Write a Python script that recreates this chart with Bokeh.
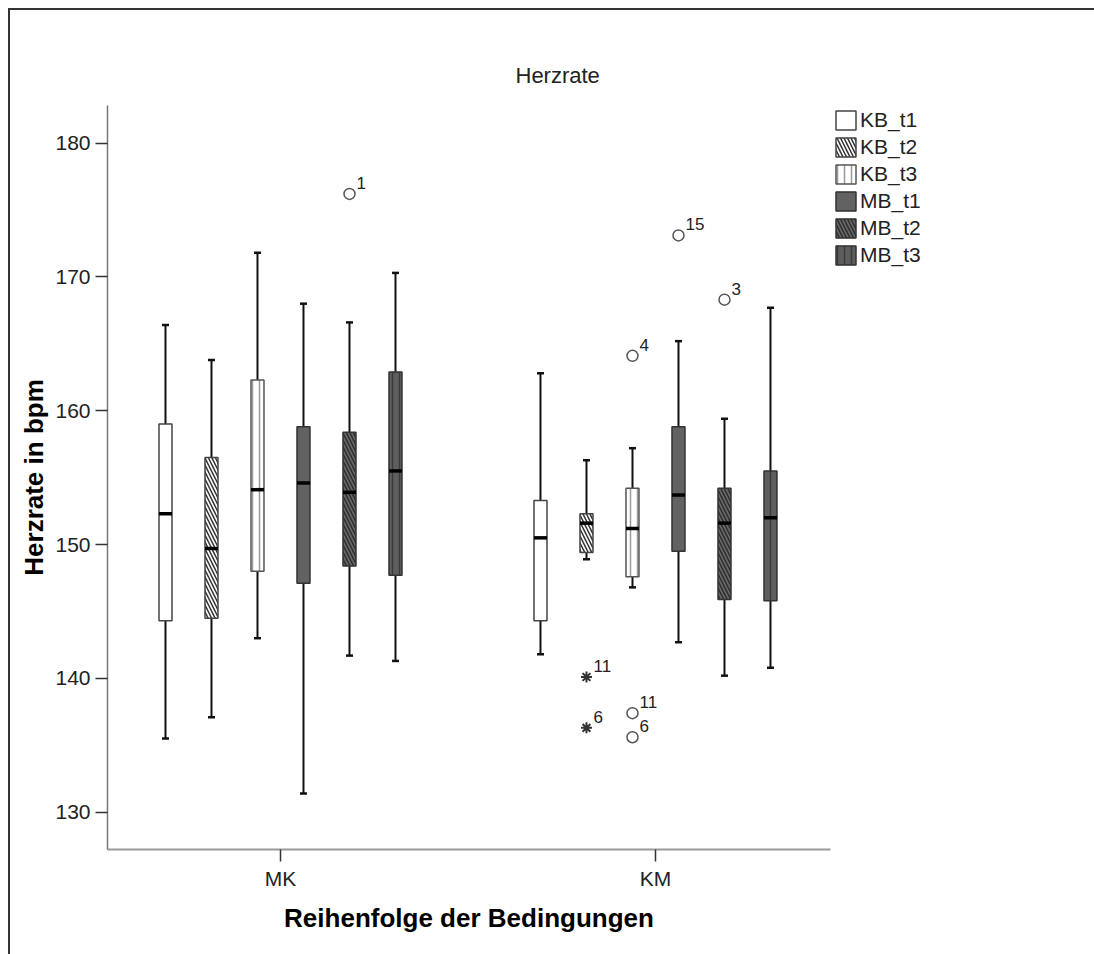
from bokeh.plotting import figure
from bokeh.models import Range1d, Legend, LegendItem, FixedTicker, ColumnDataSource
from bokeh.embed import file_html
from bokeh.resources import INLINE
from bokeh.core.properties import value

# ---------------- data ----------------
groups = ["MK", "KM"]
group_pos = [1, 2]
series = ["KB_t1", "KB_t2", "KB_t3", "MB_t1", "MB_t2", "MB_t3"]

lower_MK = [135.5, 137.1, 143.0, 131.4, 141.7, 141.3]
q1_MK = [144.3, 144.5, 148.0, 147.1, 148.4, 147.7]
median_MK = [152.3, 149.7, 154.1, 154.6, 153.9, 155.5]
q3_MK = [159.0, 156.5, 162.3, 158.8, 158.4, 162.9]
upper_MK = [166.4, 163.8, 171.8, 168.0, 166.6, 170.3]

lower_KM = [141.8, 148.9, 146.8, 142.7, 140.2, 140.8]
q1_KM = [144.3, 149.4, 147.6, 149.5, 145.9, 145.8]
median_KM = [150.5, 151.6, 151.2, 153.7, 151.6, 152.0]
q3_KM = [153.3, 152.3, 154.2, 158.8, 154.2, 155.5]
upper_KM = [162.8, 156.3, 157.2, 165.2, 159.4, 167.7]

# outliers (circles) and extremes (stars)
out_group = ["MK", "KM", "KM", "KM", "KM", "KM"]
out_series = ["MB_t2", "KB_t3", "KB_t3", "KB_t3", "MB_t1", "MB_t2"]
out_value = [176.2, 164.1, 137.4, 135.6, 173.1, 168.3]
out_label = ["1", "4", "11", "6", "15", "3"]

ext_group = ["KM", "KM"]
ext_series = ["KB_t2", "KB_t2"]
ext_value = [140.1, 136.3]
ext_label = ["11", "6"]

y_ticks = [130, 140, 150, 160, 170, 180]

# ---------------- styles ----------------
FONT = "Liberation Sans"
SLOT = 46 / 375.0
BOX_W = 13 / 375.0
CAP_W = 7 / 375.0

styles = {
    "KB_t1": dict(fill_color="white", line_color="#444444", hatch_pattern=None, hatch_color=None),
    "KB_t2": dict(fill_color="white", line_color="#444444", hatch_pattern="left_diagonal_line", hatch_color="#333333"),
    "KB_t3": dict(fill_color="white", line_color="#555555", hatch_pattern="vertical_line", hatch_color="#9a9a9a"),
    "MB_t1": dict(fill_color="#626262", line_color="#333333", hatch_pattern=None, hatch_color=None),
    "MB_t2": dict(fill_color="#686868", line_color="#333333", hatch_pattern="left_diagonal_line", hatch_color="#2e2e2e"),
    "MB_t3": dict(fill_color="#5e5e5e", line_color="#333333", hatch_pattern="vertical_line", hatch_color="#3a3a3a"),
}

stats = {
    "MK": (lower_MK, q1_MK, median_MK, q3_MK, upper_MK),
    "KM": (lower_KM, q1_KM, median_KM, q3_KM, upper_KM),
}

y0, y1 = 127.21, 182.81
x0, x1 = 0.5387, 2.4667

p = figure(
    frame_width=723, frame_height=744,
    min_border_left=97, min_border_right=264, min_border_top=95, min_border_bottom=105,
    x_range=Range1d(x0, x1), y_range=Range1d(y0, y1),
    output_backend="svg", toolbar_location=None,
    title="Herzrate",
)
p.styles = {"border-top": "2px solid #333333", "border-left": "2px solid #333333",
            "margin-left": "8px", "margin-top": "8px"}
p.background_fill_color = "white"
p.border_fill_color = "white"
p.outline_line_color = None
p.xgrid.grid_line_color = None
p.ygrid.grid_line_color = None

p.title.text_font = FONT
p.title.text_font_size = "22px"
p.title.text_font_style = "normal"
p.title.text_color = "#222222"
p.title.align = "left"
p.title.offset = 408
p.title.standoff = 35


def xpos(g, s):
    return group_pos[groups.index(g)] + (series.index(s) - 2.5) * SLOT


legend_items = []
for i, s in enumerate(series):
    xs, lo, qa, md, qb, hi = [], [], [], [], [], []
    for g in groups:
        L, Q1, M, Q3, U = stats[g]
        xs.append(xpos(g, s))
        lo.append(L[i]); qa.append(Q1[i]); md.append(M[i]); qb.append(Q3[i]); hi.append(U[i])
    src = ColumnDataSource(dict(
        x=xs, lo=lo, q1=qa, med=md, q3=qb, hi=hi,
        xl=[v - BOX_W / 2 for v in xs], xr=[v + BOX_W / 2 for v in xs],
        cl=[v - CAP_W / 2 for v in xs], cr=[v + CAP_W / 2 for v in xs],
    ))
    # whiskers
    p.segment(x0="x", y0="q3", x1="x", y1="hi", source=src, line_color="#111111", line_width=2)
    p.segment(x0="x", y0="q1", x1="x", y1="lo", source=src, line_color="#111111", line_width=2)
    p.segment(x0="cl", y0="hi", x1="cr", y1="hi", source=src, line_color="#111111", line_width=2.5)
    p.segment(x0="cl", y0="lo", x1="cr", y1="lo", source=src, line_color="#111111", line_width=2.5)
    st = styles[s]
    kw = dict(fill_color=st["fill_color"], line_color=st["line_color"], line_width=1.5)
    if st["hatch_pattern"]:
        kw.update(hatch_pattern=st["hatch_pattern"], hatch_color=st["hatch_color"],
                  hatch_scale=7, hatch_weight=1.5)
    r = p.vbar(x="x", width=BOX_W, top="q3", bottom="q1", source=src, **kw)
    p.segment(x0="xl", y0="med", x1="xr", y1="med", source=src, line_color="black", line_width=3.5)
    legend_items.append(LegendItem(label=s, renderers=[r]))

# outliers
osrc = ColumnDataSource(dict(
    x=[xpos(g, s) for g, s in zip(out_group, out_series)], y=out_value, t=out_label))
p.scatter(x="x", y="y", source=osrc, marker="circle", size=11, fill_color=None,
          line_color="#555555", line_width=1.5)
p.text(x="x", y="y", text="t", source=osrc, x_offset=7, y_offset=-5,
       text_font=value(FONT), text_font_size="17px", text_color="#222222",
       text_align="left", text_baseline="bottom")

esrc = ColumnDataSource(dict(
    x=[xpos(g, s) for g, s in zip(ext_group, ext_series)], y=ext_value, t=ext_label))
p.scatter(x="x", y="y", source=esrc, marker="asterisk", size=11,
          line_color="#333333", line_width=2)
p.text(x="x", y="y", text="t", source=esrc, x_offset=7, y_offset=-5,
       text_font=value(FONT), text_font_size="17px", text_color="#222222",
       text_align="left", text_baseline="bottom")

# axes
p.xaxis.ticker = FixedTicker(ticks=group_pos)
p.xaxis.major_label_overrides = {gp: g for gp, g in zip(group_pos, groups)}
p.yaxis.ticker = FixedTicker(ticks=y_ticks)
p.xaxis.minor_tick_line_color = None
p.yaxis.minor_tick_line_color = None
for ax in (p.xaxis, p.yaxis):
    ax.major_tick_in = 0
    ax.major_tick_out = 12
    ax.major_tick_line_color = "#333333"
    ax.major_tick_line_width = 1.5
    ax.major_label_text_font = FONT
    ax.major_label_text_font_size = "21px"
    ax.major_label_text_color = "#222222"
    ax.axis_label_text_font = FONT
    ax.axis_label_text_font_style = "bold"
    ax.axis_label_text_font_size = "26px"
    ax.axis_label_text_color = "black"
p.xaxis.axis_line_color = "#9a9a9a"
p.xaxis.axis_line_width = 2
p.yaxis.axis_line_color = "#777777"
p.yaxis.axis_line_width = 1.5
p.xaxis.axis_label = "Reihenfolge der Bedingungen"
p.yaxis.axis_label = "Herzrate in bpm"
p.xaxis.major_label_standoff = 5
p.xaxis.axis_label_standoff = 10
p.yaxis.major_label_standoff = 5
p.yaxis.axis_label_standoff = 3

legend = Legend(items=legend_items, location="top_left", orientation="vertical",
                glyph_width=25, glyph_height=24, spacing=3, padding=0, margin=3,
                label_standoff=2, label_text_font=FONT, label_text_font_size="21px",
                label_text_color="#222222", border_line_color=None, background_fill_alpha=0,
                label_height=20)
p.add_layout(legend, "right")

open("out.html", "w").write(file_html(p, INLINE))
